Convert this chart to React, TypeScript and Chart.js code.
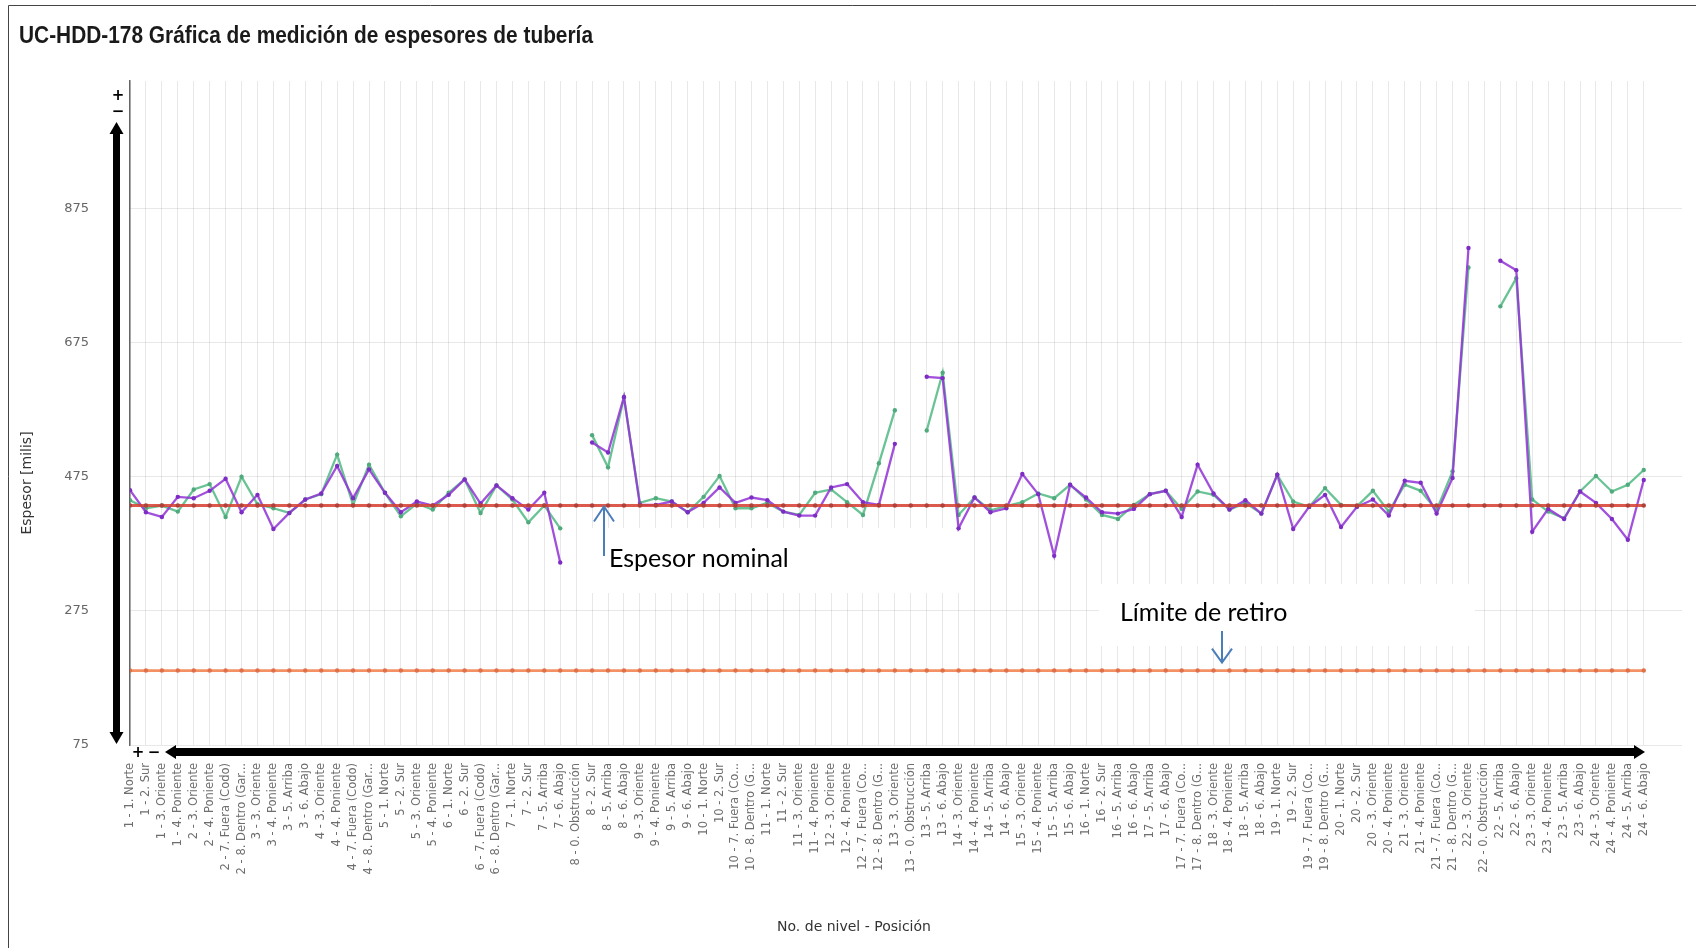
import { useEffect, useRef } from "react";
import { Chart, registerables } from "chart.js";

Chart.register(...registerables);

const chartTitle = "UC-HDD-178 Gráfica de medición de espesores de tubería";
const yAxisTitle = "Espesor [milis]";
const xAxisTitle = "No. de nivel - Posición";

const categories = [
  "1 - 1. Norte", "1 - 2. Sur", "1 - 3. Oriente", "1 - 4. Poniente",
  "2 - 3. Oriente", "2 - 4. Poniente", "2 - 7. Fuera (Codo)", "2 - 8. Dentro (Gar...",
  "3 - 3. Oriente", "3 - 4. Poniente", "3 - 5. Arriba", "3 - 6. Abajo",
  "4 - 3. Oriente", "4 - 4. Poniente", "4 - 7. Fuera (Codo)", "4 - 8. Dentro (Gar...",
  "5 - 1. Norte", "5 - 2. Sur", "5 - 3. Oriente", "5 - 4. Poniente",
  "6 - 1. Norte", "6 - 2. Sur", "6 - 7. Fuera (Codo)", "6 - 8. Dentro (Gar...",
  "7 - 1. Norte", "7 - 2. Sur", "7 - 5. Arriba", "7 - 6. Abajo",
  "8 - 0. Obstrucción", "8 - 2. Sur", "8 - 5. Arriba", "8 - 6. Abajo",
  "9 - 3. Oriente", "9 - 4. Poniente", "9 - 5. Arriba", "9 - 6. Abajo",
  "10 - 1. Norte", "10 - 2. Sur", "10 - 7. Fuera (Co...", "10 - 8. Dentro (G...",
  "11 - 1. Norte", "11 - 2. Sur", "11 - 3. Oriente", "11 - 4. Poniente",
  "12 - 3. Oriente", "12 - 4. Poniente", "12 - 7. Fuera (Co...", "12 - 8. Dentro (G...",
  "13 - 3. Oriente", "13 - 0. Obstrucción", "13 - 5. Arriba", "13 - 6. Abajo",
  "14 - 3. Oriente", "14 - 4. Poniente", "14 - 5. Arriba", "14 - 6. Abajo",
  "15 - 3. Oriente", "15 - 4. Poniente", "15 - 5. Arriba", "15 - 6. Abajo",
  "16 - 1. Norte", "16 - 2. Sur", "16 - 5. Arriba", "16 - 6. Abajo",
  "17 - 5. Arriba", "17 - 6. Abajo", "17 - 7. Fuera (Co...", "17 - 8. Dentro (G...",
  "18 - 3. Oriente", "18 - 4. Poniente", "18 - 5. Arriba", "18 - 6. Abajo",
  "19 - 1. Norte", "19 - 2. Sur", "19 - 7. Fuera (Co...", "19 - 8. Dentro (G...",
  "20 - 1. Norte", "20 - 2. Sur", "20 - 3. Oriente", "20 - 4. Poniente",
  "21 - 3. Oriente", "21 - 4. Poniente", "21 - 7. Fuera (Co...", "21 - 8. Dentro (G...",
  "22 - 3. Oriente", "22 - 0. Obstrucción", "22 - 5. Arriba", "22 - 6. Abajo",
  "23 - 3. Oriente", "23 - 4. Poniente", "23 - 5. Arriba", "23 - 6. Abajo",
  "24 - 3. Oriente", "24 - 4. Poniente", "24 - 5. Arriba", "24 - 6. Abajo",
];

// Purple series (latest measurement)
const purpleValues: (number | null)[] = [
  455, 422, 415, 445, 443, 454, 472, 422, 448, 397,
  421, 441, 450, 491, 443, 486, 451, 422, 438, 432,
  448, 471, 435, 462, 443, 426, 451, 347, null, 526,
  511, 594, 433, 433, 438, 422, 436, 459, 436, 444,
  440, 423, 417, 417, 459, 464, 437, 433, 524, null,
  624, 622, 398, 444, 422, 428, 479, 449, 357, 463,
  444, 422, 420, 427, 449, 454, 415, 493, 450, 426,
  440, 420, 478, 397, 430, 448, 400, 430, 441, 417,
  469, 466, 420, 473, 816, null, 797, 783, 393, 427,
  412, 453, 436, 412, 381, 470,
];

// Green series (previous measurement)
const greenValues: (number | null)[] = [
  440, 428, 432, 423, 456, 464, 415, 475, 434, 428,
  421, 441, 449, 508, 433, 493, 451, 416, 435, 426,
  451, 471, 421, 462, 441, 407, 432, 398, null, 537,
  489, 593, 436, 443, 438, 422, 445, 476, 428, 428,
  436, 423, 418, 451, 456, 437, 418, 495, 574, null,
  544, 630, 418, 444, 425, 431, 437, 450, 443, 463,
  441, 418, 412, 433, 449, 454, 427, 453, 448, 426,
  436, 420, 478, 438, 430, 458, 433, 431, 454, 423,
  463, 454, 425, 483, 787, null, 729, 771, 441, 423,
  413, 453, 476, 453, 463, 485,
];

const nominalThickness = 432;
const retireLimit = 186;
const yTicks = [75, 275, 475, 675, 875];
const yMin = 75;
const yMax = 1065;
const xMax = 97.4;

const noteNominal = "Espesor nominal";
const noteLimit = "Límite de retiro";

const decorPlugin = {
  id: "decor",
  beforeDatasetsDraw(chart: any) {
    const ctx = chart.ctx;
    ctx.save();
    ctx.fillStyle = "#ffffff";
    ctx.fillRect(585, 528, 381, 65);
    ctx.fillRect(1099, 584, 376, 62);
    ctx.restore();
  },
  afterDraw(chart: any) {
    const ctx = chart.ctx;
    const ys = chart.scales.y;
    ctx.save();

    // frame
    ctx.strokeStyle = "#444";
    ctx.lineWidth = 1;
    ctx.beginPath();
    ctx.moveTo(8.5, 948);
    ctx.lineTo(8.5, 5.5);
    ctx.lineTo(1696, 5.5);
    ctx.stroke();

    // title
    ctx.fillStyle = "#1a1a1a";
    ctx.font = 'bold 24px "Liberation Sans Narrow", "Liberation Sans", Arial, sans-serif';
    ctx.textAlign = "left";
    ctx.textBaseline = "middle";
    ctx.fillText(chartTitle, 19, 36, 574);

    // axis titles
    ctx.fillStyle = "#333";
    ctx.font = '14px "DejaVu Sans", sans-serif';
    ctx.save();
    ctx.translate(27, 483);
    ctx.rotate(-Math.PI / 2);
    ctx.textAlign = "center";
    ctx.fillText(yAxisTitle, 0, 0);
    ctx.restore();
    ctx.font = '14px "DejaVu Sans", sans-serif';
    ctx.textAlign = "center";
    ctx.fillText(xAxisTitle, 854, 927);

    // zoom widgets
    ctx.fillStyle = "#000";
    ctx.fillRect(113, 132, 7, 602);
    ctx.beginPath();
    ctx.moveTo(109.5, 134);
    ctx.lineTo(123.5, 134);
    ctx.lineTo(116.5, 122);
    ctx.closePath();
    ctx.fill();
    ctx.beginPath();
    ctx.moveTo(109.5, 732);
    ctx.lineTo(123.5, 732);
    ctx.lineTo(116.5, 744);
    ctx.closePath();
    ctx.fill();

    ctx.fillRect(175, 748, 1460, 8);
    ctx.beginPath();
    ctx.moveTo(176, 745);
    ctx.lineTo(176, 759);
    ctx.lineTo(165, 752);
    ctx.closePath();
    ctx.fill();
    ctx.beginPath();
    ctx.moveTo(1634, 745);
    ctx.lineTo(1634, 759);
    ctx.lineTo(1645, 752);
    ctx.closePath();
    ctx.fill();

    ctx.font = 'bold 15px "DejaVu Sans", sans-serif';
    ctx.textAlign = "center";
    ctx.textBaseline = "middle";
    ctx.fillText("+", 118, 96);
    ctx.fillText("−", 118, 112);
    ctx.fillText("+", 138, 753);
    ctx.fillText("−", 154, 753);

    // annotations
    ctx.fillStyle = "#000";
    ctx.font = '25px Lato, "Open Sans", sans-serif';
    ctx.textAlign = "left";
    ctx.textBaseline = "alphabetic";
    ctx.fillText(noteNominal, 609, 567);
    ctx.fillText(noteLimit, 1120, 621);

    ctx.strokeStyle = "#4a7ebb";
    ctx.lineWidth = 2;
    const nomY = ys.getPixelForValue(nominalThickness);
    ctx.beginPath();
    ctx.moveTo(604, 556);
    ctx.lineTo(604, nomY + 1);
    ctx.moveTo(594, nomY + 16);
    ctx.lineTo(604, nomY + 1);
    ctx.lineTo(614, nomY + 16);
    ctx.stroke();

    const limY = ys.getPixelForValue(retireLimit);
    ctx.beginPath();
    ctx.moveTo(1222, 631);
    ctx.lineTo(1222, limY - 8);
    ctx.moveTo(1212, limY - 22);
    ctx.lineTo(1222, limY - 8);
    ctx.lineTo(1232, limY - 22);
    ctx.stroke();

    ctx.restore();
  },
};

export default function App() {
  const canvasRef = useRef<HTMLCanvasElement | null>(null);

  useEffect(() => {
    const canvas = canvasRef.current;
    if (!canvas) return;
    const toXY = (arr: (number | null)[]) => arr.map((v, i) => ({ x: i, y: v }));
    const constLine = (v: number) => categories.map((_, i) => ({ x: i, y: v }));

    const chart = new Chart(canvas, {
      type: "line",
      data: {
        datasets: [
          {
            label: "Espesor nominal",
            data: constLine(nominalThickness) as any,
            borderColor: "rgba(214, 66, 52, 0.88)",
            backgroundColor: "#b8453a",
            borderWidth: 3,
            pointRadius: 2.2,
            pointBorderWidth: 0,
            pointBackgroundColor: "#b0403a",
          },
          {
            label: "Límite de retiro",
            data: constLine(retireLimit) as any,
            borderColor: "rgba(242, 138, 92, 0.95)",
            backgroundColor: "#e8744a",
            borderWidth: 2.8,
            pointRadius: 2.2,
            pointBorderWidth: 0,
            pointBackgroundColor: "#e0704a",
          },
          {
            label: "Medición actual",
            data: toXY(purpleValues) as any,
            borderColor: "rgba(148, 56, 214, 0.88)",
            backgroundColor: "rgba(130, 50, 200, 1)",
            borderWidth: 2.3,
            pointRadius: 2.2,
            pointBorderWidth: 0,
            pointBackgroundColor: "rgba(125, 45, 195, 1)",
            spanGaps: false,
          },
          {
            label: "Medición anterior",
            data: toXY(greenValues) as any,
            borderColor: "rgba(98, 192, 142, 0.95)",
            backgroundColor: "rgba(80, 170, 125, 1)",
            borderWidth: 2.3,
            pointRadius: 2.2,
            pointBorderWidth: 0,
            pointBackgroundColor: "rgba(80, 170, 125, 1)",
            spanGaps: false,
          },
        ],
      },
      options: {
        responsive: false,
        animation: false,
        devicePixelRatio: 1,
        layout: { padding: { left: 0, top: 81, right: 14, bottom: 0 } },
        plugins: {
          legend: { display: false },
          title: { display: false },
          tooltip: { enabled: false },
        },
        elements: { line: { tension: 0 } },
        scales: {
          x: {
            type: "linear",
            min: 0,
            max: xMax,
            afterBuildTicks: (scale: any) => {
              scale.ticks = categories.map((_, i) => ({ value: i }));
            },
            afterFit: (scale: any) => {
              scale.height = 203;
            },
            ticks: {
              autoSkip: false,
              maxRotation: 90,
              minRotation: 90,
              padding: 18,
              color: "#6e6e6e",
              font: { family: '"DejaVu Sans", sans-serif', size: 11.5 },
              callback: (v: any) => categories[v as number] ?? "",
            },
            grid: {
              color: "rgba(0,0,0,0.09)",
              lineWidth: 1,
              drawTicks: false,
            },
            border: { display: false },
          },
          y: {
            type: "linear",
            min: yMin,
            max: yMax,
            afterBuildTicks: (scale: any) => {
              scale.ticks = yTicks.map((v) => ({ value: v }));
            },
            afterFit: (scale: any) => {
              scale.width = 130;
            },
            ticks: {
              padding: 41,
              color: "#666",
              font: { family: '"DejaVu Sans", sans-serif', size: 13 },
              callback: (v: any) => String(v),
            },
            grid: {
              color: "rgba(0,0,0,0.09)",
              lineWidth: 1,
              drawTicks: false,
            },
            border: { display: true, color: "#666", width: 1.5 },
          },
        },
      },
      plugins: [decorPlugin],
    });

    return () => chart.destroy();
  }, []);

  return (
    <div style={{ position: "absolute", left: 0, top: 0, width: 1696, height: 948, background: "#fff" }}>
      <canvas ref={canvasRef} width={1696} height={948} style={{ display: "block" }} />
    </div>
  );
}
